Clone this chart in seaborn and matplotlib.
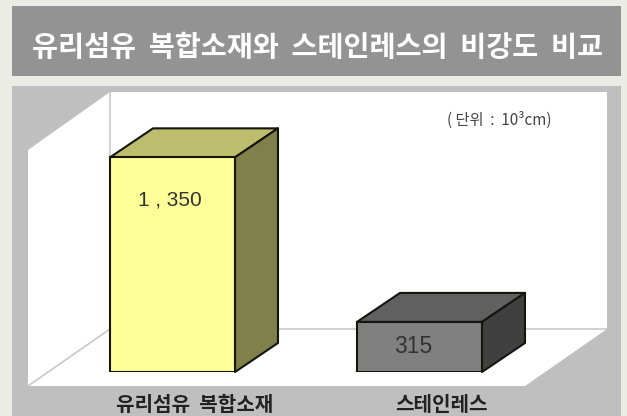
import matplotlib
matplotlib.use("Agg")
import matplotlib.pyplot as plt
from matplotlib.patches import Polygon, Rectangle
from matplotlib.transforms import ScaledTranslation
import seaborn as sns

# Chart values
materials = ["유리섬유  복합소재", "스테인레스"]
stiffness = [1350, 315]
value_labels = ["1 , 350", "315"]
value_sizes = [15, 16.5]
title_text = "유리섬유  복합소재와  스테인레스의  비강도  비교"
unit_text = "( 단위  :  10³cm)"

# Face colours per bar: front, top, side
front_colors = ["#FFFF99", "#808080"]
top_colors = ["#BDBD6E", "#606060"]
side_colors = ["#80804A", "#404040"]

W, H = 627, 416
DPI = 100
KR = ["Noto Sans CJK KR", "DejaVu Sans"]

sns.set_theme(style="white")
plt.rcParams["font.family"] = KR

fig = plt.figure(figsize=(W / DPI, H / DPI), dpi=DPI, facecolor="#EBECE6")

# Backdrop: a canvas in pixel units holding the header band and the 3D room
bg = fig.add_axes([0, 0, 1, 1])
bg.set_xlim(0, W)
bg.set_ylim(H, 0)
bg.axis("off")
bg.add_patch(Rectangle((12, 6), 609, 70, fc="#939393", ec="none"))
bg.add_patch(Rectangle((12, 86), 609, 330, fc="#BFBFBF", ec="none"))
room_wall = [(110, 92), (607, 92), (607, 329), (525, 386), (28, 386), (28, 150)]
bg.add_patch(Polygon(room_wall, closed=True, fc="white", ec="none"))
bg.plot([110, 110, 28], [92, 329, 386], color="#C8C8C8", lw=1.2)
bg.plot([110, 607], [329, 329], color="#C8C8C8", lw=1.2)
bg.text(318, 48, title_text, color="white", fontsize=20.4, fontweight="bold",
        ha="center", va="center", family=KR)
bg.text(499, 120, unit_text, color="#444444", fontsize=11,
        ha="center", va="center", family=KR)

# Bar axes: the category spacing and value scale set the front faces
bar_left, bar_right = 49, 543
floor_y, top_y = 372, 92
ax = fig.add_axes([bar_left / W, 1 - floor_y / H,
                   (bar_right - bar_left) / W, (floor_y - top_y) / H])
ax.patch.set_alpha(0)
sns.barplot(x=materials, y=stiffness, hue=materials, palette=front_colors,
            legend=False, width=0.506, saturation=1, edgecolor="#151510",
            linewidth=1.5, ax=ax, zorder=3)
ax.set_xlim(-0.5, 1.5)
ax.set_ylim(0, 1761)
sns.despine(ax=ax, left=True, bottom=True)
ax.set_yticks([])
ax.tick_params(axis="x", length=0, pad=15.5)
label_shift = ScaledTranslation(22 / DPI, 0, fig.dpi_scale_trans)
for lab in ax.get_xticklabels():
    lab.set_transform(lab.get_transform() + label_shift)
    lab.set_fontsize(14.5)
    lab.set_fontweight("bold")
    lab.set_color("#222222")
    lab.set_family(KR)

# Depth faces extend each front face back and to the right
fig.canvas.draw()
to_data = ax.transData.inverted()
ox, oy = to_data.transform((0, 0))
dx, dy = to_data.transform((43, 29))
dx, dy = dx - ox, dy - oy
text_offsets = [(-3, -43), (-6, -25)]
for bar, top_c, side_c, text, size, (tx, ty) in zip(ax.patches, top_colors, side_colors,
                                                    value_labels, value_sizes, text_offsets):
    x0, x1 = bar.get_x(), bar.get_x() + bar.get_width()
    h = bar.get_height()
    ax.add_patch(Polygon([(x0, h), (x1, h), (x1 + dx, h + dy), (x0 + dx, h + dy)],
                         closed=True, fc=top_c, ec="#151510", lw=1.5,
                         joinstyle="round", clip_on=False, zorder=2))
    ax.add_patch(Polygon([(x1, 0), (x1, h), (x1 + dx, h + dy), (x1 + dx, dy)],
                         closed=True, fc=side_c, ec="#151510", lw=1.5,
                         joinstyle="round", clip_on=False, zorder=2))
    ax.annotate(text, xy=((x0 + x1) / 2, h), xytext=(tx * 0.72, ty * 0.72),
                textcoords="offset points", ha="center", va="center",
                fontsize=size, color="#333333", family=["Liberation Sans"],
                zorder=5)

fig.savefig("out.png", dpi=DPI, facecolor=fig.get_facecolor())
